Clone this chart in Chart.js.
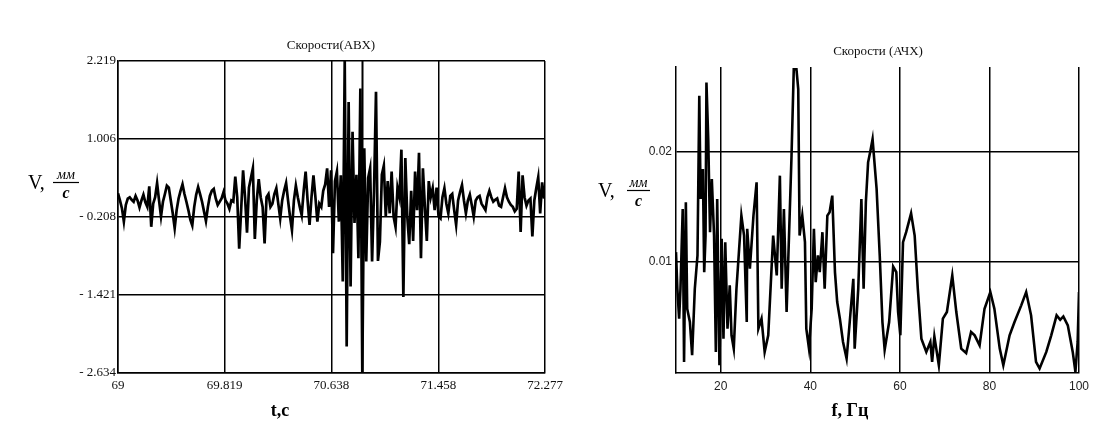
<!DOCTYPE html>
<html>
<head>
<meta charset="utf-8">
<script src="https://cdn.jsdelivr.net/npm/chart.js@4.4.0/dist/chart.umd.min.js"></script>
<style>
  html, body { margin: 0; padding: 0; background: #fff; }
  #wrap { position: relative; width: 1112px; height: 441px; overflow: hidden; background: #fff; }
  canvas { position: absolute; top: 0; }
  #cL { left: 0; }
  #cR { left: 560px; }
</style>
</head>
<body>
<div id="wrap">
  <canvas id="cR" width="552" height="441"></canvas>
  <canvas id="cL" width="580" height="441"></canvas>
</div>
<script>
// ---------- Left chart data: Скорости(АВХ) ----------
const leftTitle = "Скорости(АВХ)";
const timeStart = 69;
const timeStep = 0.015;
const timeMarker = 70.873;
const timeTicks = [69, 69.819, 70.638, 71.458, 72.277];
const timeTickLabels = ["69", "69.819", "70.638", "71.458", "72.277"];
const velTicks = [2.219, 1.006, -0.208, -1.421, -2.634];
const velTickLabels = ["2.219", "1.006", "- 0.208", "- 1.421", "- 2.634"];
const velocity = [
  0.16, 0.05, -0.07, -0.28, -0.02, 0.08, 0.10, 0.06, 0.03, 0.12,
  0.05, -0.06, 0.05, 0.14, 0.02, -0.05, 0.27, -0.36, 0.00, 0.10,
  0.32, 0.05, -0.20, 0.03, 0.15, 0.28, 0.25, 0.05, -0.15, -0.38,
  -0.10, 0.08, 0.20, 0.30, 0.15, 0.03, -0.10, -0.25, -0.34, -0.05,
  0.14, 0.26, 0.15, 0.03, -0.12, -0.27, -0.05, 0.12, 0.20, 0.23,
  0.08, -0.02, 0.03, 0.08, 0.18, 0.05,
  0.00, -0.08, 0.05, 0.03, 0.42, 0.10, -0.70, -0.10, 0.52, 0.10,
  -0.45, 0.25, 0.40, 0.55, -0.55, 0.05, 0.38, 0.10, -0.05, -0.62,
  0.10, 0.15, -0.05, 0.00, 0.15, 0.24, 0.00, -0.23, 0.05, 0.20,
  0.32, 0.05, -0.20, -0.41, 0.05, 0.28, 0.10, -0.05, -0.18, 0.20,
  0.50, 0.05, -0.33, 0.10, 0.44, 0.10, -0.28, 0.00, -0.05, 0.20,
  0.30, 0.55, -0.05, 0.52,
  -0.77, 0.35, 0.50, -0.28, 0.44, -1.21, 2.22, -2.22, 1.58, -1.29,
  1.12, -0.30, 0.45, -0.85, 1.79, -2.64, 0.86, -0.90, 0.40, 0.55,
  -0.90, 0.20, 1.74, -0.89, -0.59, 0.45, 0.59, -0.20, 0.35, -0.15,
  0.50, -0.20, -0.36, 0.25, 0.10, 0.84, -1.45, 0.71, -0.20, -0.63,
  0.20, -0.58, 0.50, -0.10, 0.79, -0.85, 0.55, -0.05, -0.58, 0.35,
  0.10, 0.24, -0.10, 0.25, -0.20,
  -0.23, 0.10, 0.24, 0.00, -0.15, 0.12, 0.15, -0.10, -0.33, 0.05,
  0.18, 0.29, 0.05, -0.15, 0.05, 0.14, -0.02, -0.20, 0.05, 0.10,
  0.12, 0.00, -0.05, -0.10, 0.10, 0.20, 0.10, 0.03, 0.06, 0.08,
  -0.03, -0.05, 0.10, 0.24, 0.10, 0.03, -0.02, -0.05, -0.12, -0.08,
  0.50, -0.44, 0.44, 0.10, -0.03, 0.05, 0.08, -0.51, 0.05, 0.24,
  0.41, -0.15, 0.33, 0.08
];

// ---------- Right chart data: Скорости (АЧХ) ----------
const rightTitle = "Скорости (АЧХ)";
const freqTicks = [20, 40, 60, 80, 100];
const freqTickLabels = ["20", "40", "60", "80", "100"];
const ampTicks = [0.01, 0.02];
const ampTickLabels = ["0.01", "0.02"];
const freqHz = [
  10.0, 10.3, 10.7, 11.0, 11.5, 11.8, 12.2, 12.5, 13.1, 13.6,
  14.2, 14.8, 15.2, 15.5, 16.0, 16.3, 16.6, 16.8, 17.2, 17.6,
  18.0, 18.5, 18.9, 19.2, 19.7, 20.2, 20.6, 21.0, 21.5, 22.0,
  22.4, 22.9, 23.5, 24.1, 24.6, 25.2, 25.8, 25.9, 26.5, 27.3,
  28.0, 28.4, 29.1, 29.8, 30.6, 31.7, 32.5, 33.2, 33.6, 34.1,
  34.7, 35.1, 35.8, 36.3, 36.9, 37.3, 37.6, 38.2, 38.8, 39.1,
  39.7, 40.3, 40.8, 41.2, 41.7, 42.1, 42.7, 43.2, 43.8, 44.3,
  44.9, 45.5, 46.0, 46.6, 47.3, 48.1, 48.8, 49.6, 49.9, 50.7,
  51.4, 51.9, 52.4, 52.9, 53.4, 53.9, 54.8, 55.5, 56.1, 56.6,
  57.6, 58.5, 59.2, 59.6, 60.1, 60.7, 61.4, 62.5, 63.3, 64.0,
  64.8, 65.9, 66.8, 67.2, 67.7, 68.7, 69.6, 70.5, 71.7, 72.6,
  73.7, 74.8, 75.9, 76.7, 77.8, 78.9, 80.2, 81.1, 82.3, 83.1,
  84.5, 85.6, 87.1, 88.2, 89.3, 90.4, 91.2, 92.7, 93.8, 95.0,
  95.8, 96.5, 97.5, 98.6, 99.2, 99.7, 100.0
];
const amplitude = [
  0.0109, 0.0076, 0.0049, 0.0076, 0.0148, 0.0010, 0.0154, 0.0058, 0.0046, 0.0016,
  0.0076, 0.0106, 0.0250, 0.0157, 0.0184, 0.0091, 0.0124, 0.0262, 0.0211, 0.0127,
  0.0175, 0.0124, 0.0019, 0.0157, 0.0007, 0.0121, 0.0031, 0.0118, 0.0040, 0.0079,
  0.0034, 0.0022, 0.0076, 0.0112, 0.0142, 0.0124, 0.0046, 0.0130, 0.0094, 0.0142,
  0.0172, 0.0040, 0.0049, 0.0019, 0.0034, 0.0124, 0.0088, 0.0178, 0.0076, 0.0148,
  0.0055, 0.0106, 0.0196, 0.0274, 0.0274, 0.0256, 0.0124, 0.0142, 0.0118, 0.0040,
  0.0022, 0.0058, 0.0130, 0.0082, 0.0106, 0.0091, 0.0127, 0.0076, 0.0142, 0.0145,
  0.0160, 0.0091, 0.0064, 0.0049, 0.0028, 0.0013, 0.0046, 0.0085, 0.0022, 0.0076,
  0.0157, 0.0076, 0.0154, 0.0190, 0.0200, 0.0211, 0.0166, 0.0106, 0.0046, 0.0021,
  0.0046, 0.0096, 0.0091, 0.0055, 0.0034, 0.0118, 0.0127, 0.0144, 0.0124, 0.0076,
  0.0031, 0.0019, 0.0028, 0.0010, 0.0033, 0.0007, 0.0049, 0.0055, 0.0088, 0.0055,
  0.0022, 0.0018, 0.0037, 0.0034, 0.0025, 0.0058, 0.0073, 0.0058, 0.0022, 0.0007,
  0.0034, 0.0046, 0.0061, 0.0073, 0.0052, 0.0010, 0.0004, 0.0019, 0.0034, 0.0052,
  0.0048, 0.0051, 0.0043, 0.0019, 0.0001, 0.0028, 0.0073
];

// ---------- helpers ----------
function fixPad(s) { s.paddingLeft = 0; s.paddingRight = 0; s.paddingTop = 0; s.paddingBottom = 0; }

function drawVLabel(ctx, x, base, fracX0, fracX1, lineY) {
  ctx.save();
  ctx.fillStyle = '#000';
  ctx.strokeStyle = '#000';
  ctx.textAlign = 'left';
  ctx.textBaseline = 'alphabetic';
  ctx.font = '20px "Liberation Serif", serif';
  ctx.fillText('V,', x, base);
  const cx = (fracX0 + fracX1) / 2;
  ctx.textAlign = 'center';
  ctx.font = 'italic 14px "Liberation Serif", serif';
  ctx.fillText('мм', cx, lineY - 3);
  ctx.font = 'italic bold 16px "Liberation Serif", serif';
  ctx.fillText('с', cx, lineY + 16);
  ctx.lineWidth = 1.2;
  ctx.beginPath();
  ctx.moveTo(fracX0, lineY + 0.5);
  ctx.lineTo(fracX1, lineY + 0.5);
  ctx.stroke();
  ctx.restore();
}

const leftDecor = {
  id: 'leftDecor',
  beforeDatasetsDraw(chart) {
    const ctx = chart.ctx, a = chart.chartArea;
    const x = Math.round(chart.scales.x.getPixelForValue(timeMarker)) + 0.5;
    ctx.save();
    ctx.strokeStyle = '#000';
    ctx.lineWidth = 2;
    ctx.beginPath();
    ctx.moveTo(x, a.top);
    ctx.lineTo(x, a.bottom);
    ctx.stroke();
    ctx.restore();
  },
  afterDraw(chart) {
    const ctx = chart.ctx;
    ctx.save();
    ctx.fillStyle = '#111';
    ctx.textAlign = 'center';
    ctx.textBaseline = 'middle';
    ctx.font = '13px "Liberation Serif", serif';
    ctx.fillText(leftTitle, 331, 46);
    ctx.font = 'bold 18px "Liberation Serif", serif';
    ctx.fillStyle = '#000';
    ctx.fillText('t,c', 280, 411);
    ctx.restore();
    drawVLabel(ctx, 28, 189, 53, 79, 182);
  }
};

const rightDecor = {
  id: 'rightDecor',
  afterDraw(chart) {
    const ctx = chart.ctx;
    ctx.save();
    ctx.fillStyle = '#111';
    ctx.textAlign = 'center';
    ctx.textBaseline = 'middle';
    ctx.font = '13px "Liberation Serif", serif';
    ctx.fillText(rightTitle, 318, 52);
    ctx.font = 'bold 18px "Liberation Serif", serif';
    ctx.fillStyle = '#000';
    ctx.fillText('f, Гц', 290, 411);
    ctx.restore();
    drawVLabel(ctx, 38, 197, 67, 90, 190);
  }
};

// ---------- left chart ----------
const leftPoints = velocity.map((v, i) => ({ x: timeStart + i * timeStep, y: v }));

new Chart(document.getElementById('cL'), {
  type: 'line',
  data: { datasets: [{ data: leftPoints, borderColor: '#000', borderWidth: 2.7, pointRadius: 0, tension: 0, fill: false }] },
  options: {
    responsive: false, animation: false, events: [],
    layout: { padding: { left: 0, right: 35, top: 61, bottom: 0 } },
    plugins: { legend: { display: false }, tooltip: { enabled: false }, title: { display: false } },
    scales: {
      x: {
        type: 'linear', min: 69, max: 72.277,
        afterBuildTicks: s => { s.ticks = timeTicks.map(v => ({ value: v })); },
        afterFit: s => { s.height = 68; fixPad(s); },
        ticks: {
          autoSkip: false, maxRotation: 0, padding: 5, color: '#111',
          font: { family: '"Liberation Serif", serif', size: 13 },
          callback: (v, i) => timeTickLabels[i]
        },
        grid: { color: '#000', lineWidth: 1.5, drawTicks: false },
        border: { display: true, color: '#000', width: 1.5 }
      },
      y: {
        type: 'linear', min: -2.634, max: 2.219,
        afterBuildTicks: s => { s.ticks = velTicks.map(v => ({ value: v })); },
        afterFit: s => { s.width = 118; fixPad(s); },
        ticks: {
          autoSkip: false, padding: 2, color: '#111',
          font: { family: '"Liberation Serif", serif', size: 13 },
          callback: (v, i) => velTickLabels[i]
        },
        grid: { color: '#000', lineWidth: 1.5, drawTicks: false },
        border: { display: true, color: '#000', width: 1.5 }
      }
    }
  },
  plugins: [leftDecor]
});

// ---------- right chart ----------
const rightPoints = freqHz.map((f, i) => ({ x: f, y: amplitude[i] }));

new Chart(document.getElementById('cR'), {
  type: 'line',
  data: { datasets: [{ data: rightPoints, borderColor: '#000', borderWidth: 2.6, pointRadius: 0, tension: 0, fill: false }] },
  options: {
    responsive: false, animation: false, events: [],
    layout: { padding: { left: 0, right: 33, top: 67, bottom: 0 } },
    plugins: { legend: { display: false }, tooltip: { enabled: false }, title: { display: false } },
    scales: {
      x: {
        type: 'linear', min: 10, max: 100,
        afterBuildTicks: s => { s.ticks = freqTicks.map(v => ({ value: v })); },
        afterFit: s => { s.height = 68; fixPad(s); },
        ticks: {
          autoSkip: false, maxRotation: 0, padding: 6, color: '#222',
          font: { family: '"Liberation Sans", sans-serif', size: 12 },
          callback: (v, i) => freqTickLabels[i]
        },
        grid: { color: '#000', lineWidth: 1.5, drawTicks: false },
        border: { display: true, color: '#000', width: 1.5 }
      },
      y: {
        type: 'linear', min: 0, max: 0.0276,
        afterBuildTicks: s => { s.ticks = ampTicks.map(v => ({ value: v })); },
        afterFit: s => { s.width = 116; fixPad(s); },
        ticks: {
          autoSkip: false, padding: 4, color: '#222',
          font: { family: '"Liberation Sans", sans-serif', size: 12 },
          callback: (v, i) => ampTickLabels[i]
        },
        grid: { color: '#000', lineWidth: 1.5, drawTicks: false },
        border: { display: true, color: '#000', width: 1.5 }
      }
    }
  },
  plugins: [rightDecor]
});
</script>
</body>
</html>
